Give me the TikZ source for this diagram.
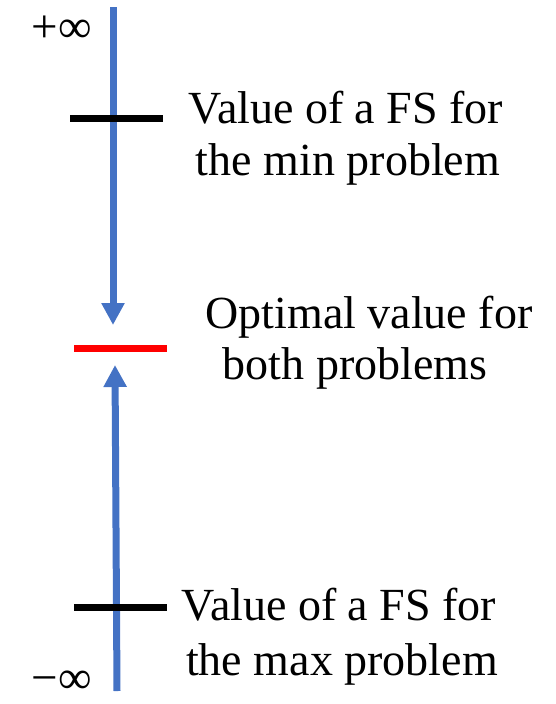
\documentclass[tikz,border=0pt]{standalone}
\usepackage{fontspec}
\setmainfont{Liberation Serif}
\usetikzlibrary{arrows.meta}
\definecolor{arrowblue}{HTML}{4472C4}
\definecolor{optred}{HTML}{FF0000}
\tikzset{
  bluearrow/.style={draw=arrowblue, line width=7pt, -{Triangle[width=22pt,length=22pt]}},
  barline/.style={line width=7pt},
  lbl/.style={anchor=base, inner sep=0pt, font=\fontsize{46}{52}\selectfont},
  inflbl/.style={anchor=base, inner sep=0pt, text height=0.55em, text depth=0pt, font=\fontsize{47}{50}\selectfont},
}
\begin{document}
\begin{tikzpicture}[x=1pt,y=-1pt]
\useasboundingbox (0,0) rectangle (556,704);
% arrow end points
\coordinate (topstart) at (113,7);
\coordinate (topend) at (113,325);
\coordinate (botstart) at (117,691);
\coordinate (botend) at (115,365);
% bars
\coordinate (b1l) at (70,118);  \coordinate (b1r) at (163,118);
\coordinate (b2l) at (74,348);  \coordinate (b2r) at (167,348);
\coordinate (b3l) at (74,607);  \coordinate (b3r) at (167,607);
% arrows
\draw[bluearrow] (topstart) -- (topend);
\draw[bluearrow] (botstart) -- (botend);
\draw[barline, black] (b1l) -- (b1r);
\draw[barline, optred] (b2l) -- (b2r);
\draw[barline, black] (b3l) -- (b3r);
% infinity labels
\node[inflbl] (pinf) at (62,42) {+∞};
\node[inflbl] (minf) at (62,693) {−∞};
% texts
\node[lbl] (t1a) at (346,123) {Value of a FS for};
\node[lbl] (t1b) at (348,175) {the min problem};
\node[lbl] (t2a) at (369,328) {Optimal value for};
\node[lbl] (t2b) at (355,379) {both problems};
\node[lbl] (t3a) at (339,620) {Value of a FS for};
\node[lbl] (t3b) at (342,675) {the max problem};
\end{tikzpicture}
\end{document}
